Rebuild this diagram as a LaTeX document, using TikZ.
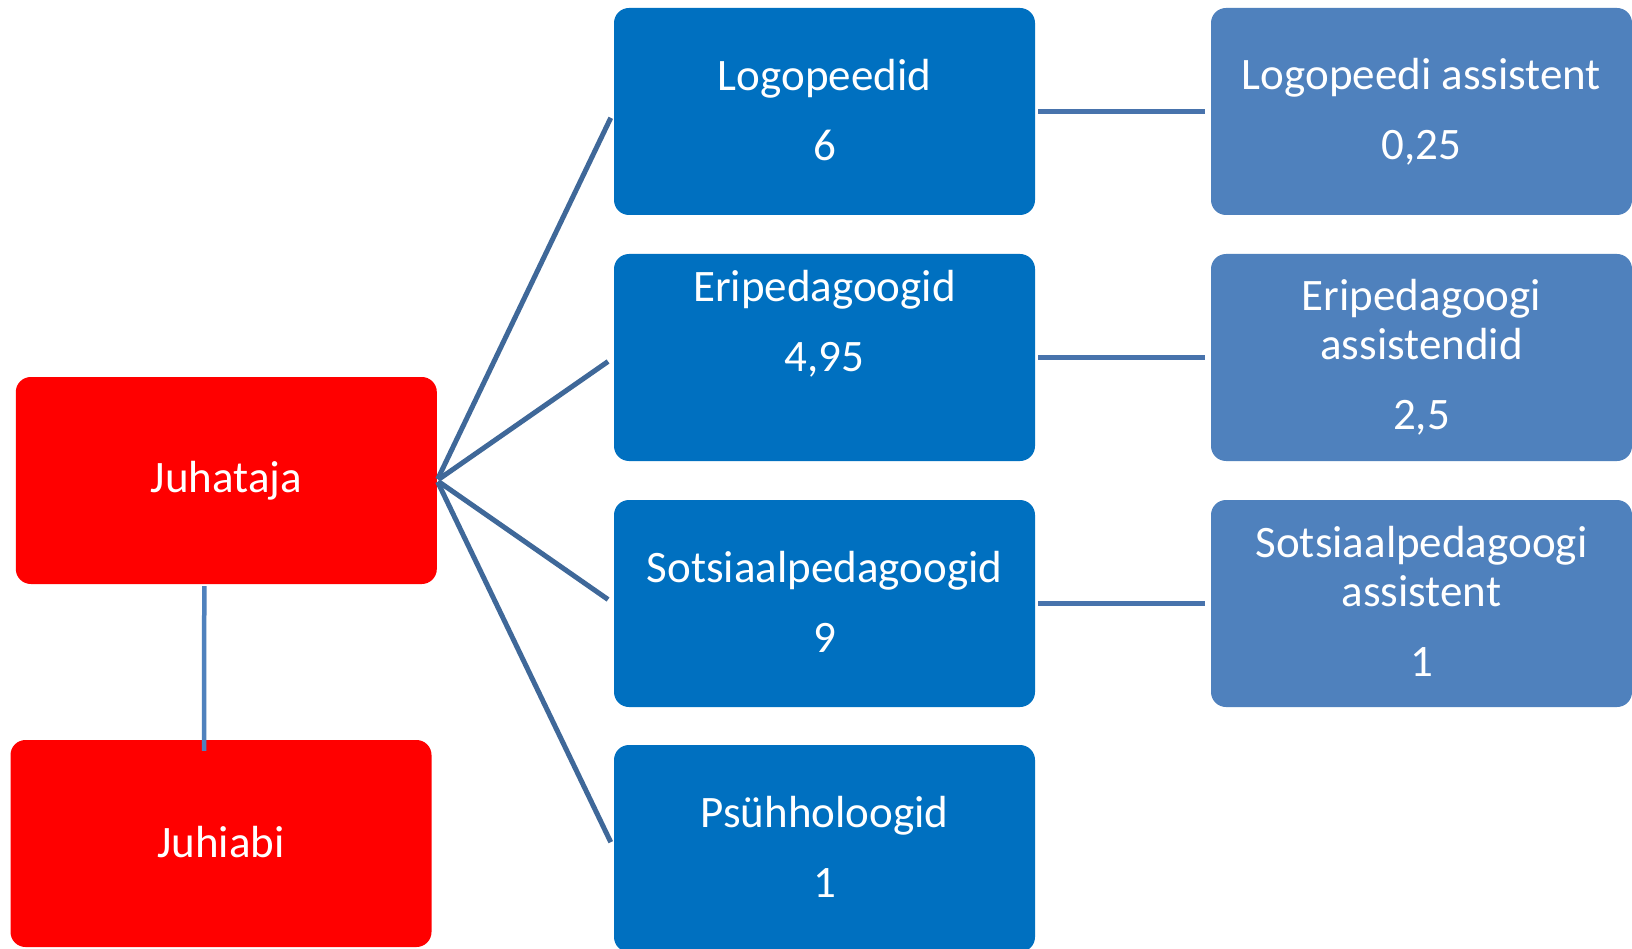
\documentclass[tikz,border=0pt]{standalone}
\usepackage{fontspec}
\setmainfont{Carlito}
\definecolor{boxred}{HTML}{FF0000}
\definecolor{boxblue}{HTML}{0070C0}
\definecolor{boxlight}{HTML}{4F81BD}
\definecolor{linkblue}{HTML}{3F6899}
\definecolor{hlinkblue}{HTML}{4873AC}
\definecolor{vlinkblue}{HTML}{4F81BD}
\tikzset{
  box/.style={rounded corners=15pt, minimum width=421pt, minimum height=207pt,
    inner sep=0pt, align=center, text=white, font=\fontsize{45}{49}\selectfont},
  redbox/.style={box, fill=boxred},
  bluebox/.style={box, fill=boxblue},
  lightbox/.style={box, fill=boxlight},
  link/.style={draw=linkblue, line width=5pt},
  hlink/.style={draw=hlinkblue, line width=4.5pt},
  vlink/.style={draw=vlinkblue, line width=4.5pt},
}
\begin{document}
\begin{tikzpicture}[x=1pt,y=-1pt]
\clip (0,0) rectangle (1632,949);
\fill[white] (0,0) rectangle (1632,949);
% left column
\node[redbox] (juh) at (226.3,480.5) {Juhataja\rule[-4pt]{0pt}{1pt}};
\node[redbox] (abi) at (221,843.5) {Juhiabi\rule[-4pt]{0pt}{1pt}};
% middle column
\node[bluebox] (logo) at (824.5,111.5) {Logopeedid\\[21pt]6\rule[-4pt]{0pt}{1pt}};
\node[bluebox] (eri) at (824.5,357.5) {Eripedagoogid\\[21pt]4,95\\[21pt]\rule[-4pt]{0pt}{1pt}};
\node[bluebox] (sots) at (824.5,603.5) {Sotsiaalpedagoogid\\[21pt]9\rule[-4pt]{0pt}{1pt}};
\node[bluebox] (psy) at (824.5,848.5) {Psühholoogid\\[21pt]1\rule[-4pt]{0pt}{1pt}};
% right column
\node[lightbox] (logoa) at (1421.5,111.5) {Logopeedi assistent\\[21pt]0,25\rule[-4pt]{0pt}{1pt}};
\node[lightbox] (eria) at (1421.5,357.5) {Eripedagoogi\\assistendid\\[21pt]2,5\rule[-4pt]{0pt}{1pt}};
\node[lightbox] (sotsa) at (1421.5,603.5) {Sotsiaalpedagoogi\\assistent\\[21pt]1\rule[-4pt]{0pt}{1pt}};
% connectors
\draw[vlink] ([xshift=-22pt,yshift=-2pt]juh.south) -- ([xshift=-17pt,yshift=-11pt]abi.north);
\foreach \t in {logo,eri,sots,psy}
  \draw[link, shorten <=1.5pt, shorten >=7pt] (juh.east) -- (\t.west);
\draw[hlink, shorten <=3pt, shorten >=6pt] (logo.east) -- (logoa.west);
\draw[hlink, shorten <=3pt, shorten >=6pt] (eri.east) -- (eria.west);
\draw[hlink, shorten <=3pt, shorten >=6pt] (sots.east) -- (sotsa.west);
\end{tikzpicture}
\end{document}
